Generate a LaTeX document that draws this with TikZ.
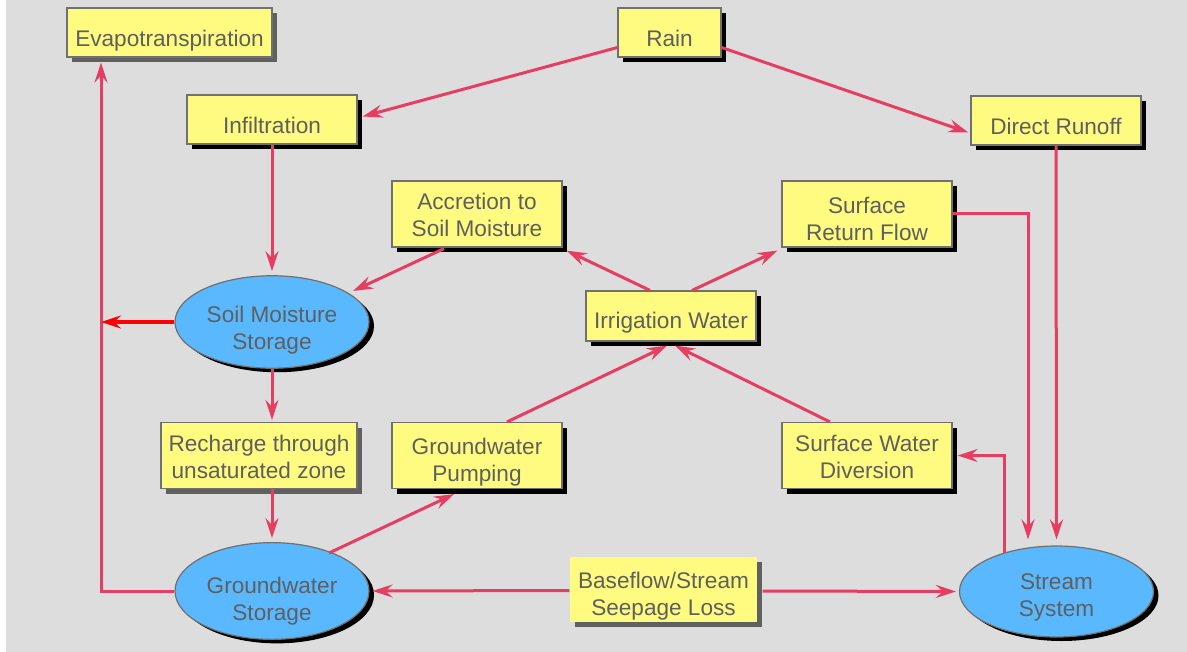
\documentclass[tikz,border=0pt]{standalone}
\usepackage{fontspec}
\setmainfont{Liberation Sans}
\usepackage{tikz}
\usetikzlibrary{shapes.geometric,arrows.meta,positioning,shadows,calc}

\definecolor{bggray}{HTML}{DDDDDD}
\definecolor{boxyellow}{HTML}{FFFA80}
\definecolor{boxline}{HTML}{707070}
\definecolor{txtgray}{HTML}{5F5F5F}
\definecolor{flowred}{HTML}{E63E62}
\definecolor{storeblue}{HTML}{5AB8FF}
\definecolor{shadowgray}{HTML}{606060}

\begin{document}
\begin{tikzpicture}[
    x=0.5pt, y=-0.5pt,
    boxbase/.style={rectangle, draw=boxline, line width=0.6pt, fill=boxyellow, text=txtgray, align=center, inner sep=0pt, minimum width=85pt, minimum height=33pt, text height=25.3pt, text depth=2.4pt, font=\fontsize{11.3}{13.6}\selectfont},
    box/.style={boxbase, drop shadow={shadow xshift=2.5pt, shadow yshift=-2.5pt, opacity=1, fill=black}},
    greybox/.style={boxbase, drop shadow={shadow xshift=2.5pt, shadow yshift=-2.5pt, opacity=1, fill=shadowgray}},
    oneline/.style={minimum height=24.5pt, text height=17pt, text depth=2.5pt},
    lower/.style={text height=28.8pt},
    store/.style={ellipse, draw=boxline, line width=0.6pt, fill=storeblue, text=txtgray, align=center, inner sep=0pt, minimum width=97pt, minimum height=45.5pt, font=\fontsize{11.3}{13.6}\selectfont, text height=27.8pt, text depth=2.4pt, drop shadow={shadow xshift=2.5pt, shadow yshift=-2pt, opacity=1, fill=black}},
    flow/.style={draw=flowred, line width=1.5pt, -{Stealth[length=10pt, width=6.5pt, inset=3.5pt]}},
    redflow/.style={flow, draw=red, line width=2pt}
]
    % Frame
    \useasboundingbox (0,0) rectangle (1187,652);
    \fill[white] (0,0) rectangle (1187,652);
    \fill[bggray] (6,0) rectangle (1187,652);

    % Top row
    \node[greybox, oneline, minimum width=102.5pt] (evap) at (169.5,32.5) {Evapotranspiration};
    \node[box, oneline, minimum width=51.5pt] (rain) at (669.5,32.5) {Rain};
    \node[box, oneline] (infil) at (272,119.5) {Infiltration};
    \node[box, oneline] (runoff) at (1056,120.5) {Direct Runoff};

    % Soil zone
    \node[box] (accretion) at (477,214) {Accretion to\\Soil Moisture};
    \node[box, lower] (return_flow) at (867,214) {Surface\\Return Flow};
    \node[box, oneline, minimum height=25pt, text height=14.5pt] (irrigation) at (671,316) {Irrigation Water};
    \node[store, text height=30.3pt] (soil) at (272,322) {Soil Moisture\\Storage};

    % Groundwater zone
    \node[greybox, minimum width=98pt] (recharge) at (259,455.5) {Recharge through\\unsaturated zone};
    \node[box, lower] (pumping) at (477,455.5) {Groundwater\\Pumping};
    \node[box] (diversion) at (867,455.5) {Surface Water\\Diversion};
    \node[store, text height=31.8pt] (gw) at (272,591) {Groundwater\\Storage};
    \node[greybox, lower, draw=none, minimum width=93.5pt, minimum height=32.5pt] (baseflow) at (663.5,589.5) {Baseflow/Stream\\Seepage Loss};
    \node[store] (stream) at (1056.5,591.5) {Stream\\System};

    \coordinate (evbend) at ($(evap.south)+(-68.5,5)$);

    % Connections
    \draw[flow] ($(rain.west)+(0,15)$) -- ($(infil.east)+(5,-3)$);
    \draw[flow] ($(rain.east)+(0,15)$) -- ($(runoff.west)+(-2,12)$);
    \draw[flow] (infil.south) -- ($(soil.north)+(0,-4)$);
    \draw[flow] ($(accretion.south)+(-33,1)$) -- ($(soil.center)+(81,-31)$);
    \draw[flow] ($(irrigation.north)+(-21,0)$) -- ($(accretion.south east)+(4,3)$);
    \draw[flow] ($(irrigation.north)+(21,0)$) -- ($(return_flow.south west)+(-4,3)$);
    \draw[flow] ($(pumping.north)+(30,0)$) -- ($(irrigation.south)+(-4,4)$);
    \draw[flow] ($(diversion.north)+(-37,0)$) -- ($(irrigation.south)+(4,4)$);
    \draw[flow] ($(gw.center)+(57,-38)$) -- ($(pumping.south)+(-23,5)$);
    \draw[flow] (return_flow.east) -| ($(stream.north)+(-28.5,-6)$);
    \draw[flow] (runoff.south) -- ($(stream.north)+(0,-6)$);
    \draw[flow] ($(stream.center)+(-52.5,-39)$) |- ($(diversion.east)+(5,0)$);
    \draw[flow] (gw.west) -| (evbend);
    \draw[redflow] (soil.west) -- (soil.west -| evbend);
    \draw[flow, shorten >=1pt] (soil.south) -- (soil.south |- recharge.north);
    \draw[flow, shorten >=2pt] (recharge.south -| gw.north) -- (gw.north);
    \draw[flow] ($(baseflow.west)+(0,1)$) -- ($(gw.east)+(3,0)$);
    \draw[flow] ($(baseflow.east)+(5,1.5)$) -- ($(stream.west)+(-3,0)$);
\end{tikzpicture}
\end{document}
